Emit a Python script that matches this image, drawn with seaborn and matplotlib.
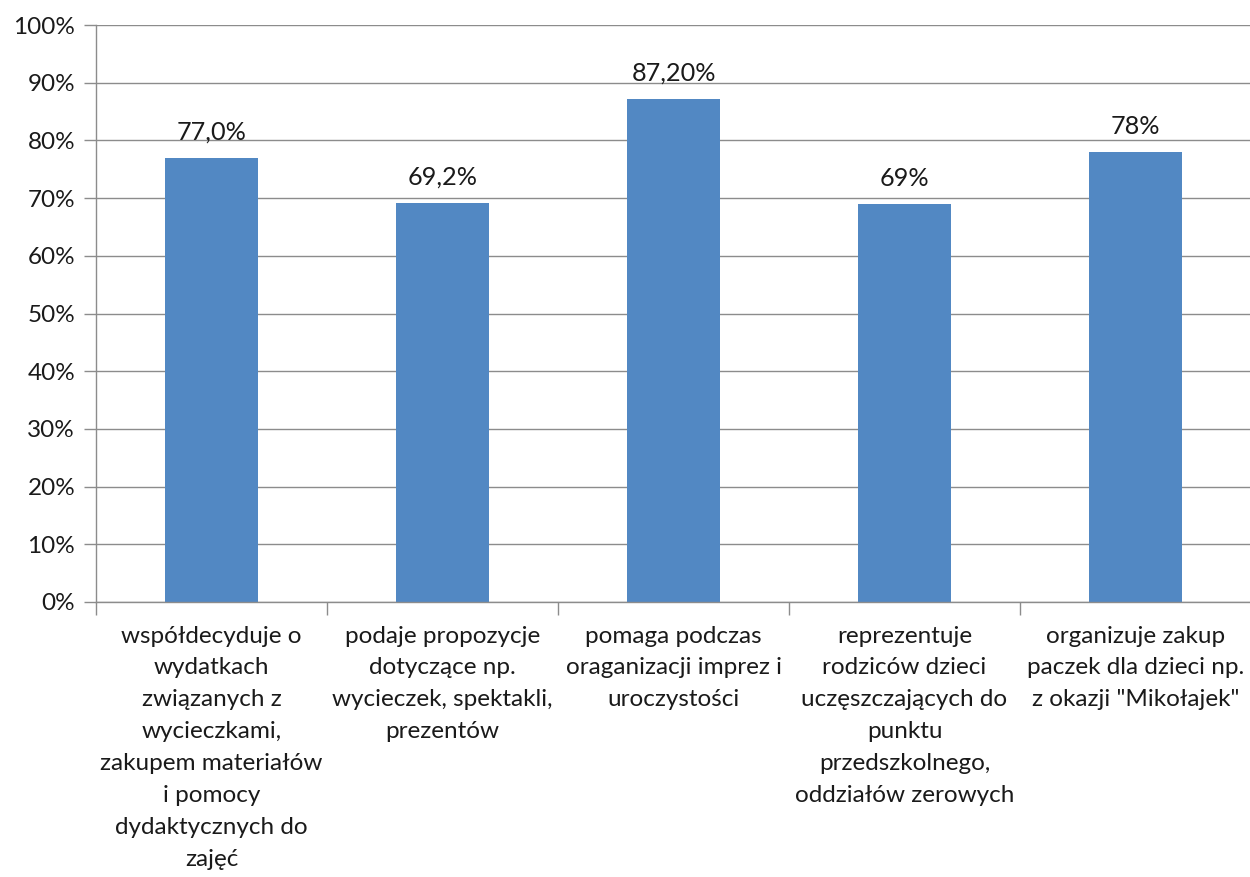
import matplotlib
matplotlib.use("Agg")
import matplotlib.pyplot as plt
import seaborn as sns
import pandas as pd
from matplotlib.ticker import FixedLocator, FuncFormatter

categories = [
    "współdecyduje o\nwydatkach\nzwiązanych z\nwycieczkami,\nzakupem materiałów\ni pomocy\ndydaktycznych do\nzajęć",
    "podaje propozycje\ndotyczące np.\nwycieczek, spektakli,\nprezentów",
    "pomaga podczas\noraganizacji imprez i\nuroczystości",
    "reprezentuje\nrodziców dzieci\nuczęszczających do\npunktu\nprzedszkolnego,\noddziałów zerowych",
    "organizuje zakup\npaczek dla dzieci np.\nz okazji \"Mikołajek\"",
]
values = [77.0, 69.2, 87.2, 69.0, 78.0]
value_labels = ["77,0%", "69,2%", "87,20%", "69%", "78%"]
y_ticks = [0, 10, 20, 30, 40, 50, 60, 70, 80, 90, 100]

sns.set_theme(style="white")
plt.rcParams['font.family'] = ['Lato', 'DejaVu Sans']

df = pd.DataFrame({"cat": categories, "val": values})

fig = plt.figure(figsize=(12.5, 8.77), dpi=100)
ax = fig.add_axes([96/1250, 1 - 602/877, (1251-96)/1250, (602-25)/877])

sns.barplot(data=df, x="cat", y="val", color="#5288C3", width=0.4, ax=ax, saturation=1,
            linewidth=0)

ax.set_ylim(0, 100)
ax.set_xlim(-0.5, len(categories) - 0.5)
ax.yaxis.set_major_locator(FixedLocator(y_ticks))
ax.yaxis.set_major_formatter(FuncFormatter(lambda v, p: f"{int(v)}%"))
ax.grid(axis="y", color="#8c8c8c", linewidth=1.0)
ax.set_axisbelow(True)

for s in ["top", "right"]:
    ax.spines[s].set_visible(False)
for s in ["left", "bottom"]:
    ax.spines[s].set_color("#8c8c8c")
    ax.spines[s].set_linewidth(1.0)

ax.tick_params(axis="y", which="major", left=True, length=9, width=1, color="#8c8c8c",
               labelsize=17.5, labelcolor="#1a1a1a", pad=6)
ax.set_xticks([i for i in range(len(categories))])
ax.set_xticklabels(categories, fontsize=17.5, color="#1a1a1a", linespacing=1.64)
ax.tick_params(axis="x", which="major", bottom=False, pad=11)
ax.set_xticks([i - 0.5 for i in range(len(categories) + 1)], minor=True)
ax.tick_params(axis="x", which="minor", bottom=True, length=9, width=1, color="#8c8c8c")

ax.set_xlabel("")
ax.set_ylabel("")

for i, (v, lab) in enumerate(zip(values, value_labels)):
    ax.annotate(lab, (i, v), xytext=(0, 10), textcoords="offset points",
                ha="center", va="bottom", fontsize=18.2, color="#1a1a1a")

fig.savefig("out.png", dpi=100)
